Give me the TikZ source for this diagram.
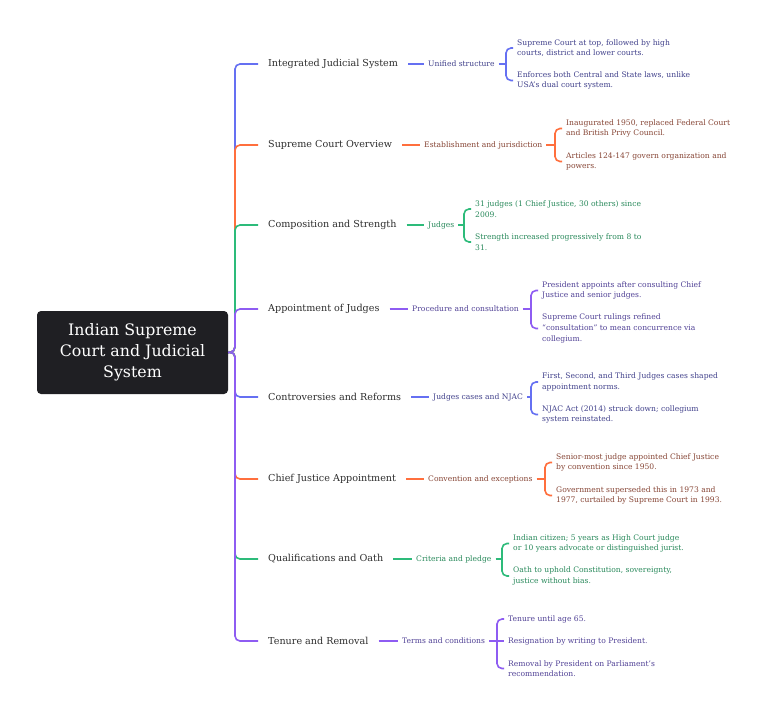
\documentclass[tikz,border=0pt]{standalone}
\usepackage{fontspec}
\setmainfont{DejaVu Serif}
\begin{document}
\begin{tikzpicture}[x=1pt,y=-1pt,
  lbl/.style={anchor=west,inner sep=0pt,text=black!82,font=\fontsize{9.6}{11}\selectfont},
  mid/.style={anchor=west,inner sep=0pt,font=\fontsize{7.6}{10.5}\selectfont},
  leaf/.style={anchor=west,inner sep=0pt,align=left,font=\fontsize{7.6}{10.6}\selectfont},
  con/.style={line width=1.6pt,rounded corners=5pt},
  bl/.style={draw=cB},or/.style={draw=cO},gr/.style={draw=cG},pu/.style={draw=cP}]
\definecolor{cB}{HTML}{6570F2}\definecolor{tB}{HTML}{42428C}
\definecolor{cO}{HTML}{FF6F3D}\definecolor{tO}{HTML}{874636}
\definecolor{cG}{HTML}{2DBB7A}\definecolor{tG}{HTML}{2A8A5C}
\definecolor{cP}{HTML}{8E5CF2}\definecolor{tP}{HTML}{514296}
\definecolor{rootbg}{HTML}{1F1F23}
\useasboundingbox[fill=white] (0,0) rectangle (768,715);

\node[fill=rootbg,rounded corners=4pt,minimum width=191pt,minimum height=83pt,inner sep=0pt,
  align=center,text=white,font=\fontsize{15.8}{21}\selectfont] (root) at (132.5,352.5)
  {Indian Supreme\\Court and Judicial\\System};
\coordinate (hub) at (235,352);

% level 1
\node[lbl] (L1) at (268,64) {Integrated Judicial System};
\node[lbl] (L2) at (268,145) {Supreme Court Overview};
\node[lbl] (L3) at (268,225) {Composition and Strength};
\node[lbl] (L4) at (268,309) {Appointment of Judges};
\node[lbl] (L5) at (268,397) {Controversies and Reforms};
\node[lbl] (L6) at (268,479) {Chief Justice Appointment};
\node[lbl] (L7) at (268,559) {Qualifications and Oath};
\node[lbl] (L8) at (268,641) {Tenure and Removal};

% level 2
\node[mid,text=tB] (M1) at (428,64) {Unified structure};
\node[mid,text=tO] (M2) at (424,145) {Establishment and jurisdiction};
\node[mid,text=tG] (M3) at (428,225) {Judges};
\node[mid,text=tP] (M4) at (412,309) {Procedure and consultation};
\node[mid,text=tB] (M5) at (433,397) {Judges cases and NJAC};
\node[mid,text=tO] (M6) at (428,479) {Convention and exceptions};
\node[mid,text=tG] (M7) at (416,559) {Criteria and pledge};
\node[mid,text=tP] (M8) at (402,641) {Terms and conditions};

% leaves
\node[leaf,text=tB] (A1) at (517,48) {Supreme Court at top, followed by high\\courts, district and lower courts.};
\node[leaf,text=tB] (B1) at (517,80.5) {Enforces both Central and State laws, unlike\\USA’s dual court system.};
\node[leaf,text=tO] (A2) at (566,128.5) {Inaugurated 1950, replaced Federal Court\\and British Privy Council.};
\node[leaf,text=tO] (B2) at (566,161.5) {Articles 124-147 govern organization and\\powers.};
\node[leaf,text=tG] (A3) at (475,209) {31 judges (1 Chief Justice, 30 others) since\\2009.};
\node[leaf,text=tG] (B3) at (475,242) {Strength increased progressively from 8 to\\31.};
\node[leaf,text=tP] (A4) at (542,290.5) {President appoints after consulting Chief\\Justice and senior judges.};
\node[leaf,text=tP] (B4) at (542,328.5) {Supreme Court rulings refined\\“consultation” to mean concurrence via\\collegium.};
\node[leaf,text=tB] (A5) at (542,382) {First, Second, and Third Judges cases shaped\\appointment norms.};
\node[leaf,text=tB] (B5) at (542,414.5) {NJAC Act (2014) struck down; collegium\\system reinstated.};
\node[leaf,text=tO] (A6) at (556,462.5) {Senior-most judge appointed Chief Justice\\by convention since 1950.};
\node[leaf,text=tO] (B6) at (556,495.5) {Government superseded this in 1973 and\\1977, curtailed by Supreme Court in 1993.};
\node[leaf,text=tG] (A7) at (513,543.5) {Indian citizen; 5 years as High Court judge\\or 10 years advocate or distinguished jurist.};
\node[leaf,text=tG] (B7) at (513,576) {Oath to uphold Constitution, sovereignty,\\justice without bias.};
\node[leaf,text=tP] (A8) at (508,619) {Tenure until age 65.};
\node[leaf,text=tP] (B8) at (508,641) {Resignation by writing to President.};
\node[leaf,text=tP] (C8) at (508,668.5) {Removal by President on Parliament’s\\recommendation.};

% trunk connectors (root -> level 1)
\foreach \i/\c in {1/bl,2/or,3/gr,4/pu,5/bl,6/or,7/gr,8/pu}{
  \draw[con,\c] (root.east) -- (hub) |- ([xshift=-10pt]L\i.west);
  \draw[con,\c] ([xshift=10pt]L\i.east) -- ([xshift=-4pt]M\i.west);
}
% brackets (level 2 -> leaves)
\foreach \i/\c in {1/bl,2/or,3/gr,4/pu,5/bl,6/or,7/gr}{
  \coordinate (k\i) at ([xshift=-11pt]A\i.west |- M\i.east);
  \draw[con,\c] ([xshift=4pt]M\i.east) -- (k\i);
  \draw[con,\c] (k\i) |- ([xshift=-4pt]A\i.west);
  \draw[con,\c] (k\i) |- ([xshift=-4pt]B\i.west);
}
\coordinate (k8) at ([xshift=-11pt]A8.west |- M8.east);
\draw[con,pu] ([xshift=4pt]M8.east) -- ([xshift=-4pt]B8.west);
\draw[con,pu] (k8) |- ([xshift=-4pt]A8.west);
\draw[con,pu] (k8) |- ([xshift=-4pt]C8.west);
\end{tikzpicture}
\end{document}
